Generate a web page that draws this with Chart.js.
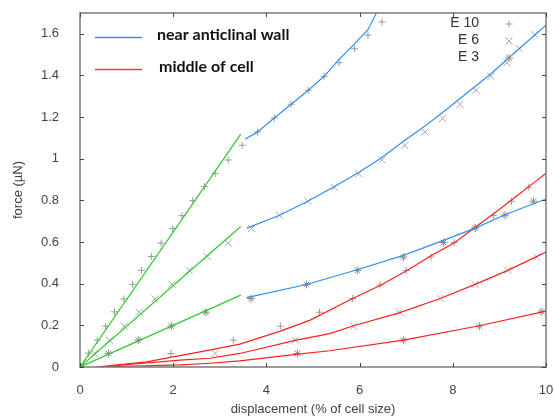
<!DOCTYPE html>
<html>
<head>
<meta charset="utf-8">
<script src="https://cdn.jsdelivr.net/npm/chart.js@4.4.1/dist/chart.umd.min.js"></script>
<style>
  html, body { margin: 0; padding: 0; background: #ffffff; }
  #wrap { width: 554px; height: 419px; }
</style>
</head>
<body>
<div id="wrap"><canvas id="c" width="554" height="419"></canvas></div>
<script>
// ---------------- data ----------------
const xTicks = [0, 2, 4, 6, 8, 10];
const yTicks = [0, 0.2, 0.4, 0.6, 0.8, 1, 1.2, 1.4, 1.6];

// measured points, "near anticlinal wall"
const e10WallX = [0, 0.18, 0.37, 0.55, 0.74, 0.94, 1.13, 1.32, 1.53, 1.74, 1.99, 2.19, 2.42, 2.67, 2.90, 3.18, 3.48, 3.81, 4.17, 4.53, 4.90, 5.24, 5.56, 5.89, 6.18, 6.48];
const e10WallY = [0, 0.066, 0.129, 0.196, 0.265, 0.327, 0.397, 0.464, 0.531, 0.595, 0.665, 0.727, 0.799, 0.866, 0.930, 0.994, 1.065, 1.129, 1.196, 1.262, 1.329, 1.396, 1.461, 1.528, 1.594, 1.657];
const e6WallX = [0, 0.31, 0.63, 0.95, 1.27, 1.61, 1.97, 2.34, 2.73, 3.18, 3.68, 4.28, 4.89, 5.46, 5.98, 6.48, 6.97, 7.40, 7.78, 8.15, 8.50, 8.82, 9.16, 9.43, 9.76];
const e6WallY = [0, 0.065, 0.129, 0.196, 0.263, 0.327, 0.397, 0.464, 0.531, 0.595, 0.665, 0.729, 0.796, 0.863, 0.928, 0.995, 1.064, 1.129, 1.194, 1.261, 1.329, 1.396, 1.461, 1.528, 1.596];
const e3WallX = [0, 0.61, 1.25, 1.96, 2.70, 3.67, 4.86, 5.95, 6.94, 7.80, 8.48, 9.12, 9.73];
const e3WallY = [0, 0.065, 0.129, 0.196, 0.263, 0.329, 0.396, 0.464, 0.528, 0.598, 0.667, 0.729, 0.796];

// measured points, "middle of cell"
const e10MidX = [1.95, 3.29, 4.30, 5.14, 5.85, 6.44, 7.00, 7.53, 8.03, 8.48, 8.87, 9.26, 9.63];
const e10MidY = [0.065, 0.129, 0.196, 0.263, 0.329, 0.394, 0.464, 0.528, 0.598, 0.667, 0.727, 0.796, 0.863];
const e6MidX = [2.90, 4.62, 5.87, 6.85, 7.73, 8.48, 9.18, 9.80];
const e6MidY = [0.065, 0.129, 0.196, 0.263, 0.329, 0.397, 0.464, 0.528];
const e3MidX = [4.67, 6.94, 8.57, 9.91];
const e3MidY = [0.065, 0.129, 0.196, 0.265];

// fitted curves: initial linear part (green)
const greenE10X = [0, 3.45];  const greenE10Y = [0, 1.118];
const greenE6X  = [0, 3.45];  const greenE6Y  = [0, 0.675];
const greenE3X  = [0, 3.45];  const greenE3Y  = [0, 0.345];

// fitted curves: near anticlinal wall (blue)
const blueE10X = [3.54, 3.81, 4.17, 4.53, 4.90, 5.24, 5.56, 5.89, 6.18, 6.36];
const blueE10Y = [1.094, 1.129, 1.196, 1.262, 1.329, 1.396, 1.477, 1.552, 1.620, 1.700];
const blueE6X = [3.58, 4.28, 4.89, 5.46, 5.98, 6.48, 6.92, 7.41, 7.78, 8.80, 9.44, 10];
const blueE6Y = [0.667, 0.729, 0.796, 0.867, 0.934, 1.006, 1.080, 1.158, 1.222, 1.405, 1.532, 1.641];
const blueE3X = [3.58, 4.86, 5.95, 6.94, 7.80, 8.48, 9.12, 10];
const blueE3Y = [0.333, 0.396, 0.467, 0.536, 0.608, 0.667, 0.731, 0.807];

// fitted curves: middle of cell (red)
const redE10X = [0.35, 1.43, 2.80, 3.43, 4.30, 4.94, 5.85, 6.44, 7.00, 7.53, 8.03, 8.48, 8.87, 9.26, 9.80, 10];
const redE10Y = [0, 0.025, 0.082, 0.110, 0.172, 0.225, 0.329, 0.391, 0.461, 0.534, 0.595, 0.671, 0.735, 0.802, 0.895, 0.930];
const redE6X = [0.40, 2.15, 2.79, 3.43, 4.64, 5.36, 5.87, 6.85, 7.73, 8.48, 9.18, 10];
const redE6Y = [0, 0.033, 0.042, 0.065, 0.129, 0.160, 0.198, 0.260, 0.329, 0.397, 0.464, 0.552];
const redE3X = [0.40, 2.15, 2.79, 3.43, 4.68, 5.36, 6.94, 8.57, 10];
const redE3Y = [0, 0.010, 0.018, 0.029, 0.062, 0.078, 0.129, 0.198, 0.268];

const topLegend = ['near anticlinal wall', 'middle of cell'];
const markerLegend = ['E 10', 'E 6', 'E 3'];

// ---------------- styling ----------------
const BLUE = '#2f8ff5', RED = '#ff1f1f', GREEN = '#2ec82e', GREY = '#9a9a9a';

function pts(xs, ys) { return xs.map((x, i) => ({ x: x, y: ys[i] })); }
function lineDs(xs, ys, color) {
  return { data: pts(xs, ys), showLine: true, borderColor: color, borderWidth: 1.2,
           pointRadius: 0, fill: false, tension: 0 };
}
function markDs(xs, ys, style, r, color) {
  return { data: pts(xs, ys), showLine: false, pointStyle: style, pointRadius: r,
           borderColor: color, backgroundColor: color, pointBorderWidth: 1, pointHoverRadius: r };
}

const datasets = [
  lineDs(greenE10X, greenE10Y, GREEN), lineDs(greenE6X, greenE6Y, GREEN), lineDs(greenE3X, greenE3Y, GREEN),
  lineDs(blueE10X, blueE10Y, BLUE), lineDs(blueE6X, blueE6Y, BLUE), lineDs(blueE3X, blueE3Y, BLUE),
  lineDs(redE10X, redE10Y, RED), lineDs(redE6X, redE6Y, RED), lineDs(redE3X, redE3Y, RED),
  markDs(e10WallX, e10WallY, 'cross', 3.5, GREY), markDs(e10MidX, e10MidY, 'cross', 3.5, GREY),
  markDs(e6WallX, e6WallY, 'crossRot', 5, '#a8a8a8'), markDs(e6MidX, e6MidY, 'crossRot', 5, '#a8a8a8'),
  markDs(e3WallX, e3WallY, 'star', 4, '#8c8c8c'), markDs(e3MidX, e3MidY, 'star', 4, '#8c8c8c')
];

// frame, inward ticks, legends
const framePlugin = {
  id: 'frame',
  afterDraw(chart) {
    const { ctx, chartArea: a, scales } = chart;
    ctx.save();
    ctx.strokeStyle = '#7a7a7a';
    ctx.lineWidth = 1.5;
    ctx.strokeRect(a.left, a.top, a.right - a.left, a.bottom - a.top);
    ctx.strokeStyle = '#444';
    ctx.lineWidth = 1;
    ctx.beginPath();
    xTicks.forEach(v => {
      const px = Math.round(scales.x.getPixelForValue(v)) + 0.5;
      ctx.moveTo(px, a.bottom); ctx.lineTo(px, a.bottom - 4);
      ctx.moveTo(px, a.top); ctx.lineTo(px, a.top + 4);
    });
    yTicks.forEach(v => {
      const py = Math.round(scales.y.getPixelForValue(v)) + 0.5;
      ctx.moveTo(a.left, py); ctx.lineTo(a.left + 4, py);
      ctx.moveTo(a.right, py); ctx.lineTo(a.right - 4, py);
    });
    ctx.stroke();

    // top-left legend
    const lx = a.left + 15, ly = a.top + 24;
    const legendColors = ['#4f7ff5', '#ee3c48'];
    ctx.font = 'bold 16px Lato, "Liberation Sans", sans-serif';
    ctx.textBaseline = 'middle';
    ctx.textAlign = 'left';
    topLegend.forEach((t, i) => {
      const y = ly + i * 32;
      ctx.strokeStyle = legendColors[i];
      ctx.lineWidth = 1.4;
      ctx.beginPath(); ctx.moveTo(lx, y + 0.5); ctx.lineTo(lx + 47, y + 0.5); ctx.stroke();
      ctx.fillStyle = '#111';
      ctx.fillText(t, lx + 62 + i * 2, y - 2);
    });

    // marker legend
    ctx.font = '14px "Liberation Sans", Arial, sans-serif';
    ctx.textAlign = 'right';
    ctx.fillStyle = '#333';
    const styles = [['cross', 3.5, GREY], ['crossRot', 5, '#a8a8a8'], ['star', 4, '#8c8c8c']];
    markerLegend.forEach((t, i) => {
      const y = a.top + 10 + i * 17;
      ctx.fillText(t, a.left + 399, y);
      ctx.strokeStyle = styles[i][2]; ctx.fillStyle = styles[i][2]; ctx.lineWidth = 1;
      Chart.helpers.drawPoint(ctx, { pointStyle: styles[i][0], radius: styles[i][1], borderWidth: 1 }, a.left + 429, y + 1);
      ctx.fillStyle = '#333';
    });
    ctx.restore();
  }
};

const fmt = v => String(Math.round(v * 10) / 10);

new Chart(document.getElementById('c'), {
  type: 'scatter',
  data: { datasets: datasets },
  options: {
    responsive: false,
    animation: false,
    events: [],
    layout: { padding: { top: 13, right: 8, left: 0, bottom: 0 } },
    plugins: { legend: { display: false }, tooltip: { enabled: false } },
    scales: {
      x: {
        type: 'linear', min: 0, max: 10,
        afterBuildTicks(s) { s.ticks = xTicks.map(v => ({ value: v })); },
        ticks: { padding: 8, color: '#444', font: { family: '"Liberation Sans", Arial, sans-serif', size: 13 }, maxRotation: 0, callback: fmt },
        grid: { display: false }, border: { display: false },
        title: { display: true, text: 'displacement (% of cell size)', color: '#404040',
                 font: { family: '"Liberation Sans", Arial, sans-serif', size: 13 }, padding: { top: 0, bottom: 2 } },
        afterFit(s) { s.height = 52; s.paddingLeft = 0; s.paddingRight = 0; }
      },
      y: {
        type: 'linear', min: 0, max: 1.7,
        afterBuildTicks(s) { s.ticks = yTicks.map(v => ({ value: v })); },
        ticks: { padding: 13, color: '#444', font: { family: '"Liberation Sans", Arial, sans-serif', size: 13 }, callback: fmt },
        grid: { display: false }, border: { display: false },
        title: { display: true, text: 'force (µN)', color: '#404040',
                 font: { family: '"Liberation Sans", Arial, sans-serif', size: 13 }, padding: { top: 11, bottom: 0 } },
        afterFit(s) { s.width = 80; s.paddingTop = 0; s.paddingBottom = 0; }
      }
    }
  },
  plugins: [framePlugin]
});
</script>
</body>
</html>
